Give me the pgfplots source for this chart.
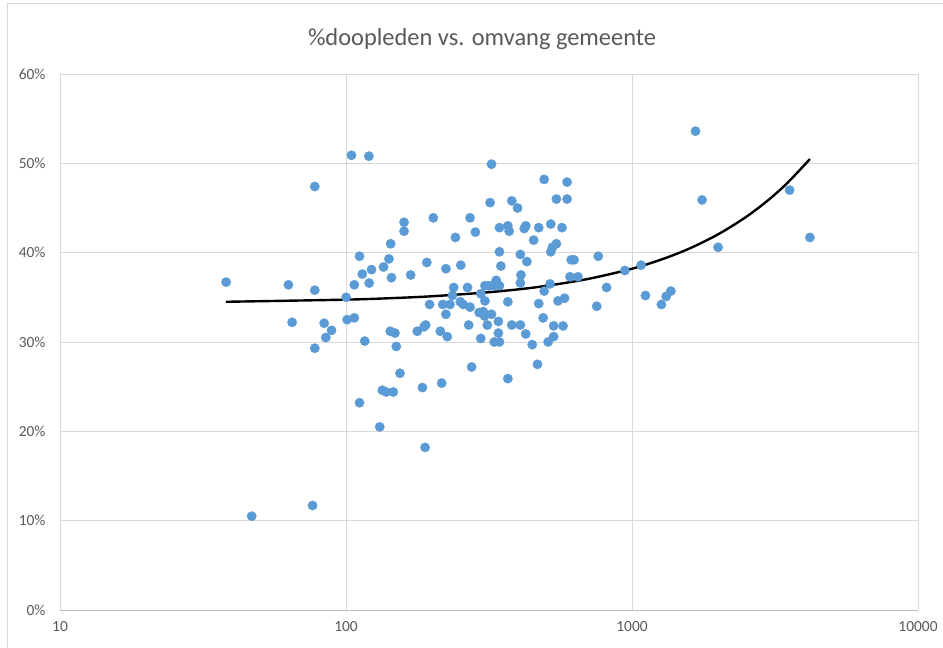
\documentclass[border=0pt]{standalone}
\usepackage{pgfplots}
\pgfplotsset{compat=1.18}
\usepackage{fontspec}
\setmainfont{Carlito}
\definecolor{dotblue}{HTML}{5B9BD5}
\definecolor{gridgray}{HTML}{D9D9D9}
\definecolor{axgray}{HTML}{BFBFBF}
\definecolor{txtgray}{HTML}{595959}
\begin{document}
\begin{tikzpicture}[x=1bp,y=1bp]
\path[use as bounding box] (0,0) rectangle (943,648);
\draw[gridgray, line width=1bp] (7,0) -- (7,644) -- (943,644);
\node[text=txtgray, font=\fontsize{24.5}{28}\selectfont] at (482,609) {\%doopleden vs. omvang gemeente};
\begin{axis}[
  at={(60bp,38bp)}, anchor=south west,
  scale only axis, width=858bp, height=536bp,
  xmode=log, xmin=10, xmax=10000, ymin=0, ymax=60,
  xtick={10,100,1000,10000}, xticklabels={10,100,1000,10000},
  ytick={0,10,20,30,40,50,60}, yticklabels={0\%,10\%,20\%,30\%,40\%,50\%,60\%},
  minor xtick={}, log basis x=10,
  xmajorgrids, ymajorgrids,
  grid style={gridgray, line width=0.75bp},
  major tick length=0pt,
  axis line style={draw=none},
  tick label style={text=txtgray, font=\fontsize{15.5}{18}\selectfont},
  xticklabel style={yshift=-8bp},
  yticklabel style={xshift=-11bp},
  clip=false,
]
\draw[axgray, line width=0.75bp] (axis cs:10,0) -- (axis cs:10000,0);
\addplot[only marks, mark=*, mark size=4.7bp, mark options={fill=dotblue, draw=dotblue, line width=0.3bp}] coordinates {
(38.1,36.7) (46.8,10.5) (62.9,36.4) (64.8,32.2) (77.8,47.4) (76.4,11.7) (77.8,35.8) (77.8,29.3)
(100.1,35.0) (106.9,36.4) (114,37.6) (122.8,38.1) (135.3,38.4) (144.2,37.2) (120.5,36.6) (168.3,37.5)
(83.9,32.1) (89.0,31.3) (85,30.5) (100.9,32.5) (106.9,32.7) (116.3,30.1) (142.8,31.2) (148.3,31.0)
(149.9,29.5) (177.5,31.2) (154.4,26.5) (133.9,24.6) (138.3,24.4) (146.4,24.4) (111.5,23.2) (185,24.9)
(131.2,20.5) (104.5,50.9) (120.2,50.8) (159.6,43.4) (159.6,42.4) (143.3,41.0) (111.5,39.6) (141.3,39.3)
(322.7,49.9) (493,48.2) (593,47.9) (319,45.6) (380,45.8) (398,45.0) (544,46.0) (593,46.0)
(202,43.9) (271.5,43.9) (283.4,42.3) (241.3,41.7) (344,42.8) (368,43.0) (372,42.4) (420,42.7)
(425,43.0) (472,42.8) (520,43.2) (569,42.8) (453,41.4) (544,41.0) (527,40.6) (520,40.1)
(344,40.1) (407,39.8) (429,39.0) (613,39.2) (627,39.2) (762,39.6) (191.7,38.9) (223.5,38.2)
(252,38.6) (348,38.5) (944,38.0)
(238,36.1) (266,36.1) (306,36.3) (316,36.3) (328,36.3) (335,36.9) (344,36.3) (296,35.4)
(306,34.6) (235.6,35.2) (196,34.2) (218,34.2) (231,34.2) (223.5,33.1) (251,34.5) (257,34.2)
(271.5,33.9) (292,33.3) (302,33.4) (305,32.9) (322.7,33.1) (268.5,31.9) (312,31.9) (341,32.3)
(368,34.5) (380,31.9) (407,31.9) (341,31.0) (296,30.4) (330,30.0) (344,30.0) (425,30.9)
(448,29.7) (472,34.3) (493,35.7) (517,36.5) (489,32.7) (551,34.6) (581,34.9) (532,31.8)
(574,31.8) (532,30.6) (509,30.0) (607,37.3) (647,37.3) (815,36.1) (753,34.0) (187.4,31.7)
(190,31.9) (213.7,31.2) (226,30.6) (275,27.2) (368,25.9) (467,27.5) (216,25.4) (409,37.5)
(407,36.6) (189,18.2)
(1667,53.6) (1758,45.9) (3556,47.0) (4188,41.7) (2000,40.6) (1076,38.6) (1114,35.2) (1367,35.7)
(1317,35.1) (1267,34.2)
};
\addplot[black, line width=2.4bp, smooth] coordinates {
(38,34.50) (100,34.74) (150,34.93) (200,35.12) (300,35.51) (400,35.89) (500,36.28) (700,37.05)
(1000,38.20) (1300,39.36) (1600,40.51) (2000,42.05) (2500,43.98) (3000,45.90) (3500,47.83) (4190,50.48)
};
\end{axis}
\end{tikzpicture}
\end{document}
